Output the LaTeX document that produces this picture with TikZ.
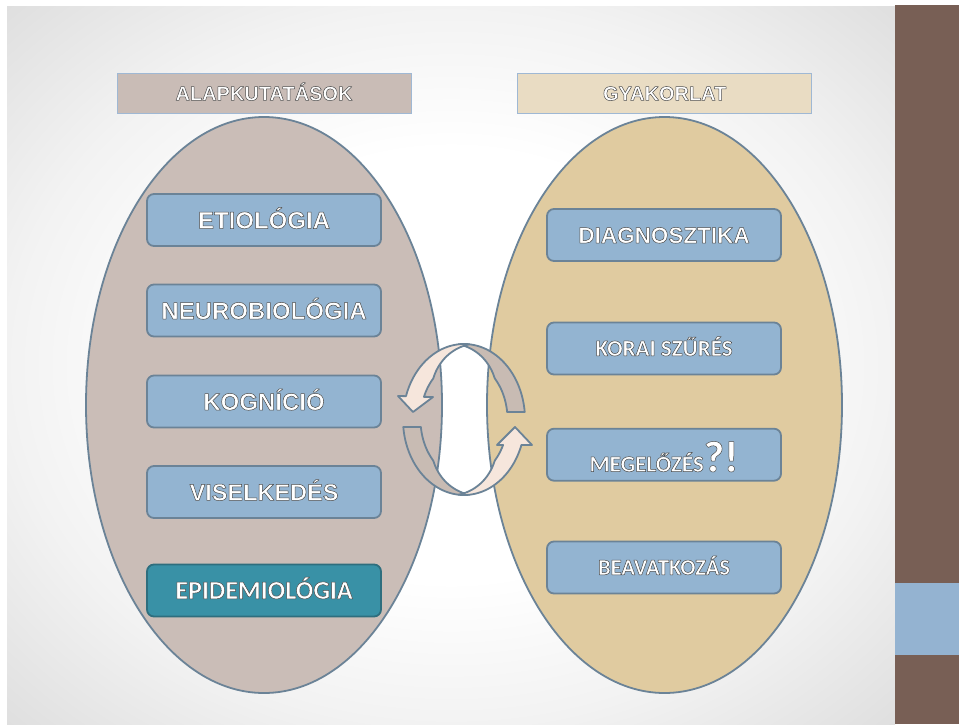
\documentclass[tikz,border=0pt]{standalone}
\usepackage{fontspec}
\setmainfont{Liberation Sans}
\newfontfamily\arialbold{Liberation Sans Bold}
\newfontfamily\calbold{Carlito Bold}
\definecolor{linec}{HTML}{6B8397}
\definecolor{leftfill}{HTML}{CABDB7}
\definecolor{rightfill}{HTML}{E0CBA0}
\definecolor{hdrL}{HTML}{C9BCB6}
\definecolor{hdrR}{HTML}{E9DCC3}
\definecolor{hdrline}{HTML}{9FB8D4}
\definecolor{boxc}{HTML}{93B4D1}
\definecolor{tealc}{HTML}{3991A6}
\definecolor{tealline}{HTML}{2E6E7E}
\definecolor{brownc}{HTML}{785F55}
\definecolor{blueblock}{HTML}{94B3D1}
\definecolor{peach}{HTML}{F6E6DC}
\definecolor{tanc}{HTML}{C8BBB3}
\newcommand\whtxt[1]{\special{pdf:literal direct 0.3 0.3 0.3 RG 0.5 w 1 j 2 Tr}#1\special{pdf:literal direct 0 Tr}}
\pgfdeclareradialshading{slidebg}{\pgfpoint{0bp}{0bp}}{color(0bp)=(white); color(15bp)=(white); color(25bp)=(black!5); color(36bp)=(black!13); color(50bp)=(black!13)}
\tikzset{
  hdr/.style={draw=hdrline, line width=0.9pt, minimum width=294pt, minimum height=40pt, inner sep=0pt, text=white, font=\arialbold\fontsize{20}{24}\selectfont, text height=14.3pt, text depth=0pt},
  bx/.style={draw=linec, line width=1.8pt, fill=boxc, rounded corners=7pt, minimum width=234pt, minimum height=52pt, inner sep=0pt, text=white, text depth=0pt},
  arialtxt/.style={font=\arialbold\fontsize{#1}{#1}\selectfont, text height=0.716*#1 pt},
  caltxt/.style={font=\calbold\fontsize{#1}{#1}\selectfont, text height=0.644*#1 pt},
  ring/.style={draw=linec, line width=1.8pt, line join=round},
  oval/.style={draw=linec, line width=1.8pt}
}
\begin{document}
\begin{tikzpicture}[x=1pt,y=-1pt]
\useasboundingbox (0,0) rectangle (959,724);
\fill[white] (0,0) rectangle (959,724);
\shade[shading=slidebg] (7,6) rectangle (895,724);
\fill[brownc] (895,5) rectangle (959,724);
\fill[blueblock] (895,583) rectangle (959,655);

% ovals
\filldraw[oval, fill=leftfill] (264,405) ellipse [x radius=178pt, y radius=288pt];
\filldraw[oval, fill=rightfill] (664.5,405) ellipse [x radius=177.5pt, y radius=288pt];

% headers
\node[hdr, fill=hdrL] (hl) at (264,93.3) {\whtxt{ALAPKUTATÁSOK}};
\node[hdr, fill=hdrR] (hr) at (664.7,93.3) {\whtxt{GYAKORLAT}};

% left boxes
\node[bx, arialtxt=24] (l1) at (264,220) {\whtxt{ETIOLÓGIA}};
\node[bx, arialtxt=24] (l2) at (264,310.5) {\whtxt{NEUROBIOLÓGIA}};
\node[bx, arialtxt=24] (l3) at (264,401.5) {\whtxt{KOGNÍCIÓ}};
\node[bx, arialtxt=23.5] (l4) at (264,492) {\whtxt{VISELKEDÉS}};
\node[bx, caltxt=26, fill=tealc, draw=tealline] (l5) at (264,590.5) {\whtxt{EPIDEMIOLÓGIA}};

% right boxes
\node[bx, arialtxt=22.5] (r1) at (664,235) {\whtxt{DIAGNOSZTIKA}};
\node[bx, caltxt=23] (r2) at (664,348.5) {\whtxt{KORAI SZŰRÉS}};
\node[bx, font=\calbold\fontsize{23}{23}\selectfont, text height=34pt] (r3) at (664,454.7) {\whtxt{MEGELŐZÉS{\fontsize{44}{44}\selectfont ?!}}};
\node[bx, caltxt=22.5] (r4) at (664,567.5) {\whtxt{BEAVATKOZÁS}};

% circular arrows
% upper: back (tan) part
\filldraw[ring, fill=tanc]
  plot[domain=265:354.3, samples=40] ({464+61*cos(\x)},{419.5+75.5*sin(\x)})
  -- plot[domain=352.6:265, samples=40] ({464+(61-17.5*min(1,(\x-265)/50))*cos(\x)},{419.5+(75.5-17.5*min(1,(\x-265)/50))*sin(\x)})
  -- cycle;
% upper: front (peach) part with head
\filldraw[ring, fill=peach]
  plot[domain=198:275, samples=40] ({464+61*cos(\x)},{419.5+75.5*sin(\x)})
  -- plot[domain=275:203, samples=40] ({464+(61-17.5*min(1,(275-\x)/50))*cos(\x)},{419.5+(75.5-17.5*min(1,(275-\x)/50))*sin(\x)})
  -- (433,397) -- (413,412) -- (398,396) -- cycle;
% lower: back (tan) part
\filldraw[ring, fill=tanc]
  plot[domain=174.3:85, samples=40] ({464+61*cos(\x)},{419.5+75.5*sin(\x)})
  -- plot[domain=85:172.6, samples=40] ({464+(61-17.5*min(1,(\x-85)/50))*cos(\x)},{419.5+(75.5-17.5*min(1,(\x-85)/50))*sin(\x)})
  -- cycle;
% lower: front (peach) part with head
\filldraw[ring, fill=peach]
  plot[domain=19.7:95, samples=40] ({464+61*cos(\x)},{419.5+75.5*sin(\x)})
  -- plot[domain=95:26.1, samples=40] ({464+(61-17.5*min(1,(95-\x)/50))*cos(\x)},{419.5+(75.5-17.5*min(1,(95-\x)/50))*sin(\x)})
  -- (497,445) -- (515,427) -- (532,445) -- cycle;
\end{tikzpicture}
\end{document}
